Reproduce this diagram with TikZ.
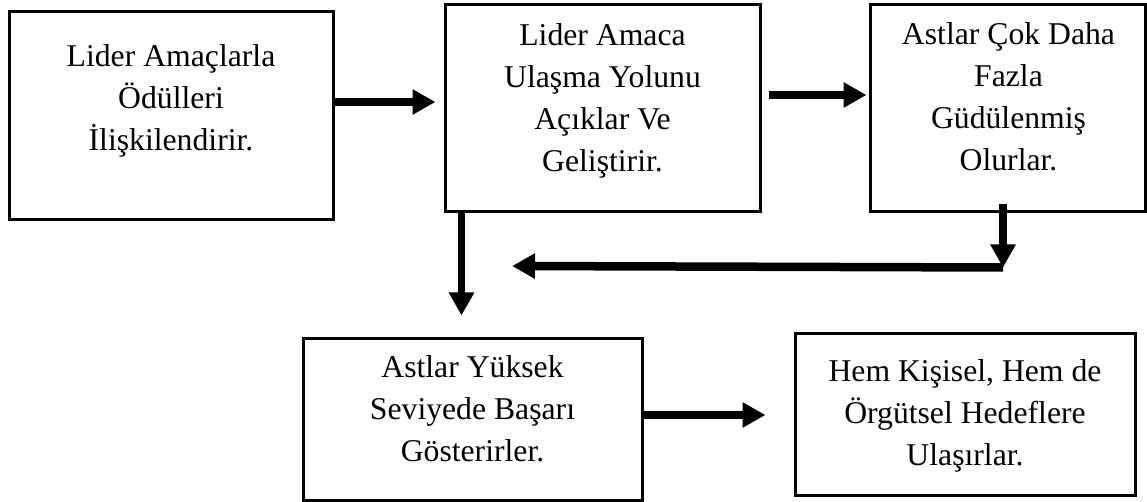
\documentclass[tikz,border=0pt]{standalone}
\usepackage{fontspec}
\setmainfont{Liberation Serif}
\usetikzlibrary{arrows.meta,calc}
\newcommand{\lines}[1]{\begin{tabular}[t]{@{}c@{}}#1\end{tabular}}
\begin{document}
\begin{tikzpicture}[x=1pt,y=-1pt,
  stage/.style={draw=black, line width=3pt, rectangle, inner sep=0pt},
  caption/.style={anchor=base, inner sep=0pt, font=\fontsize{31.7}{42}\selectfont},
  flow/.style={line width=8.5pt, -{Triangle[length=23pt,width=24pt]}}]
\useasboundingbox (0,0) rectangle (1147,502);

% boxes
\node[stage, minimum width=324pt, minimum height=208pt] (A) at (171,116) {};
\node[stage, minimum width=315pt, minimum height=207pt] (B) at (602.5,108.5) {};
\node[stage, minimum width=275pt, minimum height=207pt] (C) at (1007.5,108.5) {};
\node[stage, minimum width=339pt, minimum height=162pt] (D) at (472.5,419) {};
\node[stage, minimum width=340pt, minimum height=162pt] (E) at (965,414) {};

% texts
\node[caption] (ta) at ($(A.north)+(0,56)$) {\lines{Lider Amaçlarla\\Ödülleri\\İlişkilendirir.}};
\node[caption] (tb) at ($(B.north)+(0,42)$) {\lines{Lider Amaca\\Ulaşma Yolunu\\Açıklar Ve\\Geliştirir.}};
\node[caption] (tc) at ($(C.north)+(1,41)$) {\lines{Astlar Çok Daha\\Fazla\\Güdülenmiş\\Olurlar.}};
\node[caption] (td) at ($(D.north)+(0,41)$) {\lines{Astlar Yüksek\\Seviyede Başarı\\Gösterirler.}};
\node[caption] (te) at ($(E.north)+(0,50)$) {\lines{Hem Kişisel, Hem de\\Örgütsel Hedeflere\\Ulaşırlar.}};

% connectors
\draw[flow] ($(A.east)+(0,-14)$) -- ($(B.west)+(-8,-6.5)$);
\draw[flow] ($(B.east)+(7,-13.5)$) -- ($(C.west)+(-2,-13.5)$);
\coordinate (turn) at ($(C.south)+(-4.5,54)$);
\coordinate (back) at (512,266);
\draw[flow] ($(C.south)+(-4.5,-9)$) -- (turn);
\draw[flow] (turn) -- (back);
\draw[flow, line width=7.5pt] ($(B.south west)+(18,0)$) coordinate (b0) -- ($(b0 |- D.north)+(0,-21)$);
\draw[flow] ($(D.east)+(0,-4)$) -- ($(E.west)+(-28,1)$);
\end{tikzpicture}
\end{document}
